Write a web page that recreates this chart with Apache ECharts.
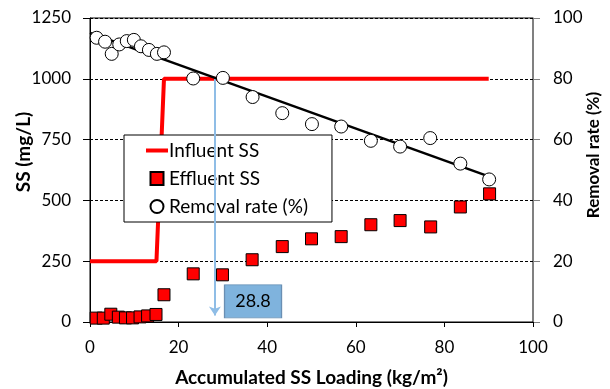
<!DOCTYPE html>
<html>
<head>
<meta charset="utf-8">
<script src="https://cdn.jsdelivr.net/npm/echarts@6/dist/echarts.min.js"></script>
<style>
html,body{margin:0;padding:0;background:#fff;}
#c{width:610px;height:389px;}
</style>
</head>
<body>
<div id="c"></div>
<script>
// Influent SS (step line)
var influentX = [0, 15.0, 16.7, 90];
var influentY = [250, 250, 1000, 1000];
// Effluent SS
var effluentX = [1.4, 3.0, 4.7, 6.4, 8.0, 9.6, 11.3, 13.0, 14.9, 16.7, 23.3, 29.9, 36.6, 43.4, 50.0, 56.7, 63.4, 70.0, 76.9, 83.6, 90.2];
var effluentY = [16, 16, 32, 20, 17, 17, 21, 25, 31, 112, 198, 194, 256, 310, 342, 351, 400, 417, 391, 473, 527];
// Removal rate (%)
var removalX = [1.5, 3.4, 4.9, 6.6, 8.3, 9.9, 11.5, 13.3, 15.1, 16.7, 23.3, 30.0, 36.7, 43.4, 50.1, 56.7, 63.4, 70.0, 76.8, 83.6, 90.1];
var removalY = [93.5, 92.2, 88.2, 91.3, 92.4, 92.8, 90.7, 89.5, 88.2, 88.7, 80.1, 80.3, 74.0, 68.7, 65.1, 64.3, 59.6, 57.7, 60.5, 52.1, 46.9];
// Linear trend of removal rate
var trendX = [0, 90];
var trendY = [95.1, 47.9];
// Annotation
var arrowX = 28.2;
var arrowTop = 1000;
var arrowBottom = 27;
var annotText = '28.8';
var annotPos = [36.8, 85];
// Axis ticks
var xTicks = [0, 20, 40, 60, 80, 100];
var ssTicks = [0, 250, 500, 750, 1000, 1250];
var rateTicks = [0, 20, 40, 60, 80, 100];

function pairs(xs, ys){ return xs.map(function(x,i){ return [x, ys[i]]; }); }
function plain(v){ return String(v); }

var FONT = 'Lato';
var chart = echarts.init(document.getElementById('c'), null, {renderer:'canvas'});
chart.setOption({
  animation: false,
  backgroundColor: '#fff',
  textStyle: {fontFamily: FONT},
  grid: {left: 90, right: 77, top: 18, bottom: 67, containLabel: false, outerBoundsMode: 'none',
         show: true, borderColor: '#000', borderWidth: 1, backgroundColor: 'transparent'},
  legend: {
    orient: 'vertical', left: 124, top: 135,
    padding: [6, 24, 6, 22],
    itemGap: 9,
    itemWidth: 22, itemHeight: 13,
    backgroundColor: '#fff', borderColor: '#000', borderWidth: 1,
    textStyle: {fontFamily: FONT, fontSize: 19, color: '#000', padding: [0,0,0,-4]},
    data: [
      {name: 'Influent SS', icon: 'path://M0,0 L22,0 L22,4 L0,4 Z', itemStyle: {color: '#ff0000', borderWidth: 0}},
      {name: 'Effluent SS', icon: 'path://M0,0 L10,0 L10,10 L0,10 Z'},
      {name: 'Removal rate (%)', icon: 'path://M0,5 A5,5 0 1 1 10,5 A5,5 0 1 1 0,5 Z'}
    ]
  },
  xAxis: {
    type: 'value', min: xTicks[0], max: xTicks[xTicks.length-1], interval: 20,
    name: 'Accumulated SS Loading (kg/m²)', nameLocation: 'middle', nameGap: 46, nameMoveOverlap: false,
    nameTextStyle: {fontFamily: FONT, fontSize: 19, fontWeight: 'bold', color: '#000'},
    axisLine: {lineStyle: {color: '#000', width: 1}},
    axisTick: {show: true, inside: false, length: 5, lineStyle: {color: '#000'}},
    axisLabel: {fontFamily: FONT, fontSize: 17, color: '#000', margin: 17, formatter: plain},
    splitLine: {show: false}
  },
  yAxis: [{
    type: 'value', min: ssTicks[0], max: ssTicks[ssTicks.length-1], interval: 250,
    name: '{g|}SS (mg/L)', nameLocation: 'middle', nameGap: 57, nameRotate: 90, nameMoveOverlap: false,
    nameTextStyle: {fontFamily: FONT, fontSize: 19, fontWeight: 'bold', color: '#000',
      rich: {g: {width: 36}}},
    axisLine: {show: true, lineStyle: {color: '#000', width: 1}},
    axisTick: {show: true, inside: false, length: 7, lineStyle: {color: '#000'}},
    axisLabel: {fontFamily: FONT, fontSize: 17, color: '#000', margin: 19, formatter: plain},
    splitLine: {show: true, lineStyle: {color: '#000', type: [3, 2], width: 1}}
  }, {
    type: 'value', min: rateTicks[0], max: rateTicks[rateTicks.length-1], interval: 20,
    position: 'right',
    name: '{g|}Removal rate (%)', nameLocation: 'middle', nameGap: 52, nameRotate: 90, nameMoveOverlap: false,
    nameTextStyle: {fontFamily: FONT, fontSize: 17, fontWeight: 'bold', color: '#000',
      rich: {g: {width: 30}}},
    axisLine: {show: true, lineStyle: {color: '#808080', width: 1}},
    axisTick: {show: true, inside: false, length: 7, lineStyle: {color: '#808080'}},
    axisLabel: {fontFamily: FONT, fontSize: 17, color: '#000', margin: 20, formatter: plain},
    splitLine: {show: false}
  }],
  series: [{
    name: 'Influent SS', type: 'line', yAxisIndex: 0,
    data: pairs(influentX, influentY),
    symbol: 'none', lineStyle: {color: '#ff0000', width: 4}, itemStyle: {color: '#ff0000'},
    z: 3,
    markLine: {
      silent: true, symbol: ['none', 'arrow'], symbolSize: 9,
      lineStyle: {color: '#8fbde6', width: 2, type: 'solid'},
      label: {show: false},
      data: [[{coord: [arrowX, arrowTop]}, {coord: [arrowX, arrowBottom]}]]
    },
    markPoint: {
      silent: true,
      data: [{coord: annotPos, symbol: 'rect', symbolSize: [57, 33], value: annotText,
        itemStyle: {color: '#7fb3dd', borderColor: '#6a8fb3', borderWidth: 1},
        label: {show: true, formatter: annotText, color: '#000', fontFamily: FONT, fontSize: 18}}]
    }
  }, {
    name: 'Effluent SS', type: 'scatter', yAxisIndex: 0,
    data: pairs(effluentX, effluentY),
    symbol: 'rect', symbolSize: 12,
    itemStyle: {color: '#ff0000', borderColor: '#000', borderWidth: 1, opacity: 1},
    z: 4
  }, {
    name: 'Trend', type: 'line', yAxisIndex: 1,
    data: pairs(trendX, trendY),
    symbol: 'none', lineStyle: {color: '#000', width: 2.5},
    z: 5
  }, {
    name: 'Removal rate (%)', type: 'scatter', yAxisIndex: 1,
    data: pairs(removalX, removalY),
    symbol: 'circle', symbolSize: 13,
    itemStyle: {color: '#fff', borderColor: '#000', borderWidth: 1, opacity: 1},
    z: 6
  }]
});
</script>
</body>
</html>
